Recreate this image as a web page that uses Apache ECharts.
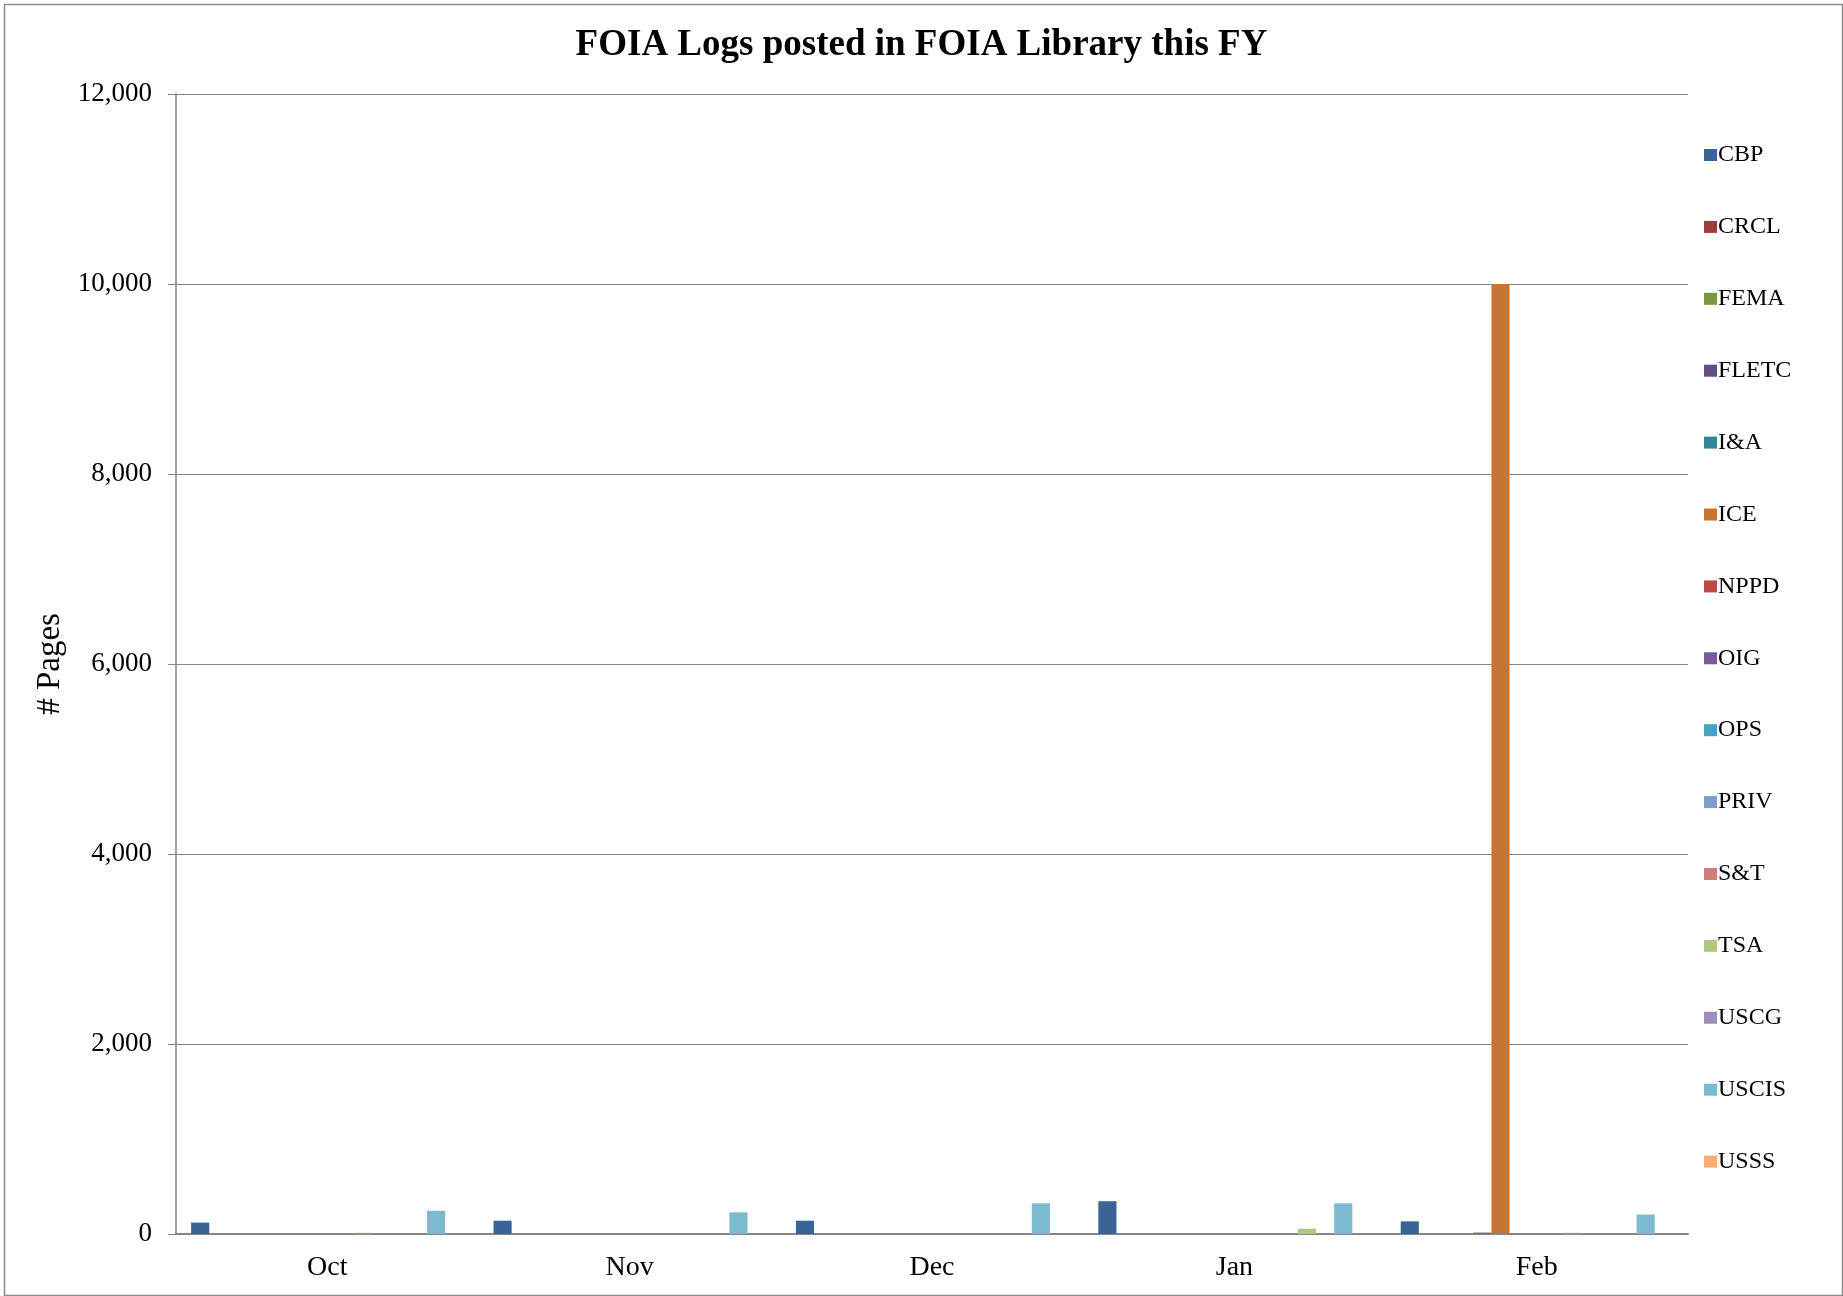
<!DOCTYPE html>
<html>
<head>
<meta charset="utf-8">
<script src="https://cdn.jsdelivr.net/npm/echarts@6/dist/echarts.min.js"></script>
<style>
  html, body { margin: 0; padding: 0; background: #fff; }
  #chart { width: 1843px; height: 1296px; }
</style>
</head>
<body>
<div id="chart"></div>
<script>
// categories and values
var months = ['Oct', 'Nov', 'Dec', 'Jan', 'Feb']
var components = ['CBP', 'CRCL', 'FEMA', 'FLETC', 'I&A', 'ICE', 'NPPD', 'OIG', 'OPS', 'PRIV', 'S&T', 'TSA', 'USCG', 'USCIS', 'USSS']
var colors = ['#3B6496', '#9B3D3B', '#7B9541', '#644C84', '#37849A', '#C57433', '#B94A48', '#765D9A', '#47A4BF', '#7F9DC9', '#CD7D7C', '#AFC785', '#9E8DB9', '#7CBACE', '#F9AB73']

var cbp = [120, 140, 140, 345, 133]
var crcl = [0, 0, 0, 0, 0]
var fema = [0, 0, 0, 0, 0]
var fletc = [0, 0, 0, 0, 0]
var ia = [0, 0, 0, 0, 15]
var ice = [0, 0, 0, 0, 10000]
var nppd = [0, 0, 0, 0, 0]
var oig = [0, 0, 0, 0, 0]
var ops = [0, 0, 0, 0, 0]
var priv = [12, 0, 0, 0, 12]
var snt = [0, 0, 0, 0, 0]
var tsa = [0, 0, 0, 55, 0]
var uscg = [0, 0, 0, 0, 0]
var uscis = [245, 228, 323, 323, 205]
var usss = [0, 0, 0, 0, 0]

var seriesData = [cbp, crcl, fema, fletc, ia, ice, nppd, oig, ops, priv, snt, tsa, uscg, uscis, usss]

var font = "'Liberation Serif', 'Times New Roman', serif"
var chart = echarts.init(document.getElementById('chart'))

var option = {
  backgroundColor: '#fff',
  color: colors,
  animation: false,
  title: {
    text: 'FOIA Logs posted in FOIA Library this FY',
    left: 'center',
    top: 22,
    textStyle: { fontFamily: font, fontSize: 37, fontWeight: 'bold', color: '#000' }
  },
  legend: {
    orient: 'vertical',
    left: 1699,
    top: 138,
    itemWidth: 13,
    itemHeight: 12,
    itemGap: 47.9,
    icon: 'rect',
    textStyle: { fontFamily: font, fontSize: 24, color: '#000', lineHeight: 24, padding: [0, 0, 0, -4] },
    data: components
  },
  grid: {
    left: 176,
    right: 155,
    top: 94,
    bottom: 62,
    containLabel: false
  },
  xAxis: {
    type: 'category',
    data: months,
    axisLine: { lineStyle: { color: '#868686', width: 2 } },
    axisTick: { show: false },
    axisLabel: { fontFamily: font, fontSize: 28, color: '#000', margin: 20 }
  },
  yAxis: {
    type: 'value',
    min: 0,
    max: 12000,
    interval: 2000,
    name: '# Pages',
    nameLocation: 'middle',
    nameGap: 107,
    nameTextStyle: { fontFamily: font, fontSize: 33, color: '#000' },
    axisLine: { show: true, lineStyle: { color: '#868686', width: 1.5 } },
    axisTick: { show: true, inside: false, length: 8, lineStyle: { color: '#868686' } },
    axisLabel: { fontFamily: font, fontSize: 27, color: '#000', margin: 24 },
    splitLine: { lineStyle: { color: '#868686', width: 1 } }
  },
  graphic: [
    {
      type: 'rect',
      left: 2,
      top: 2,
      shape: { width: 1838, height: 1291 },
      style: { fill: 'none', stroke: '#8c8c8c', lineWidth: 1.5 },
      silent: true
    }
  ],
  series: components.map(function (name, i) {
    return {
      name: name,
      type: 'bar',
      barGap: '0%',
      barCategoryGap: '10%',
      itemStyle: { color: colors[i] },
      data: seriesData[i]
    }
  })
}
chart.setOption(option)
</script>
</body>
</html>
